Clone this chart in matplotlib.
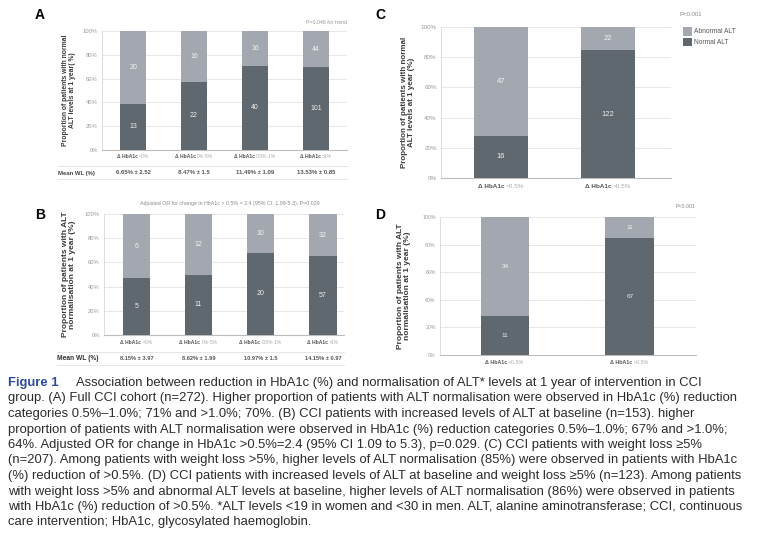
import matplotlib
matplotlib.use("Agg")
import matplotlib.pyplot as plt
from matplotlib.transforms import blended_transform_factory, ScaledTranslation

# ---------------- data ----------------
cats_AB = ["<0%", "0%-5%", "0.5%-1%", ">1%"]
cats_CD = ["<0.5%", ">0.5%"]

A_normal = [13, 22, 40, 101]
A_abnormal = [20, 16, 16, 44]
A_normal_pct = [39, 57.5, 71, 69.5]
A_mean_wl = ["6.65% ± 2.52", "8.47% ± 1.5", "11.49% ± 1.09", "13.53% ± 0.85"]

B_normal = [5, 11, 20, 57]
B_abnormal = [6, 12, 10, 32]
B_normal_pct = [47, 50, 68, 65]
B_mean_wl = ["8.15% ± 3.97", "8.62% ± 1.99", "10.97% ± 1.5", "14.15% ± 0.97"]

C_normal = [16, 122]
C_abnormal = [47, 22]
C_normal_pct = [28, 84.5]

D_normal = [11, 67]
D_abnormal = [34, 11]
D_normal_pct = [28, 85]

yticks = [0, 20, 40, 60, 80, 100]
ytick_labels = ["0%", "20%", "40%", "60%", "80%", "100%"]

caption_head = "Figure 1"
caption_lines = [
    "Association between reduction in HbA1c (%) and normalisation of ALT* levels at 1 year of intervention in CCI",
    "group. (A) Full CCI cohort (n=272). Higher proportion of patients with ALT normalisation were observed in HbA1c (%) reduction",
    "categories 0.5%\u20131.0%; 71% and >1.0%; 70%. (B) CCI patients with increased levels of ALT at baseline (n=153). higher",
    "proportion of patients with ALT normalisation were observed in HbA1c (%) reduction categories 0.5%\u20131.0%; 67% and >1.0%;",
    "64%. Adjusted OR for change in HbA1c >0.5%=2.4 (95% CI 1.09 to 5.3), p=0.029. (C) CCI patients with weight loss \u22655%",
    "(n=207). Among patients with weight loss >5%, higher levels of ALT normalisation (85%) were observed in patients with HbA1c",
    "(%) reduction of >0.5%. (D) CCI patients with increased levels of ALT at baseline and weight loss \u22655% (n=123). Among patients",
    "with weight loss >5% and abnormal ALT levels at baseline, higher levels of ALT normalisation (86%) were observed in patients",
    "with HbA1c (%) reduction of >0.5%. *ALT levels <19 in women and <30 in men. ALT, alanine aminotransferase; CCI, continuous",
    "care intervention; HbA1c, glycosylated haemoglobin.",
]

# ---------------- style ----------------
W, H = 768, 542
DARK = "#5f686f"
LIGHT = "#a3a7af"
TICKC = "#9a9a9a"
LABC = "#3a3a3a"
plt.rcParams["font.family"] = ["Liberation Sans", "DejaVu Sans"]

fig = plt.figure(figsize=(W / 100, H / 100), dpi=100)
fig.patch.set_facecolor("white")


def px_axes(l, r, t, b):
    return fig.add_axes([l / W, 1 - b / H, (r - l) / W, (b - t) / H])


def fx(x):
    return x / W


def fy(y):
    return 1 - y / H


split_texts = []


def panel(ax, cats, normal, abnormal, normal_pct, width, xlim, ylabel,
          tick_fs, val_fs, ylab_fs, ylab_x, xlab_y, xlab_fs):
    x = list(range(len(cats)))
    abn_pct = [100 - p for p in normal_pct]
    b1 = ax.bar(x, normal_pct, width, color=DARK, zorder=3, label="Normal ALT")
    b2 = ax.bar(x, abn_pct, width, bottom=normal_pct, color=LIGHT, zorder=3,
                label="Abnormal ALT")
    for i in x:
        ax.text(i, normal_pct[i] / 2, str(normal[i]), ha="center", va="center",
                color="#eeeeee", fontsize=val_fs, zorder=4)
        ax.text(i, normal_pct[i] + abn_pct[i] / 2, str(abnormal[i]), ha="center",
                va="center", color="#f2f2f2", fontsize=val_fs, zorder=4)
    ax.set_xlim(*xlim)
    ax.set_ylim(0, 100)
    ax.set_yticks(yticks)
    ax.set_yticklabels(ytick_labels)
    ax.tick_params(axis="y", length=0, labelsize=tick_fs, labelcolor=TICKC, pad=3)
    ax.set_xticks([])
    ax.yaxis.grid(True, color="#e4e4e4", linewidth=0.6, zorder=0)
    for s in ["top", "right"]:
        ax.spines[s].set_visible(False)
    ax.spines["left"].set_color("#d8d8d8")
    ax.spines["left"].set_linewidth(0.6)
    ax.spines["bottom"].set_color("#bdbdbd")
    ax.spines["bottom"].set_linewidth(0.8)
    ax.set_ylabel(ylabel, fontsize=ylab_fs, fontweight="bold", color=LABC,
                  linespacing=1.15, va="center")
    ax.yaxis.set_label_coords(fx(ylab_x), 0.5, transform=blended_transform_factory(fig.transFigure, ax.transAxes))
    tr = blended_transform_factory(ax.transData, fig.transFigure)
    for i, c in enumerate(cats):
        t1 = ax.text(i, fy(xlab_y), "\u0394 HbA1c ", transform=tr, ha="left",
                     va="center", fontsize=xlab_fs, fontweight="bold", color="#555555")
        t2 = ax.text(i, fy(xlab_y), c, transform=tr, ha="left", va="center",
                     fontsize=xlab_fs, color="#aaaaaa")
        split_texts.append((t1, t2, tr))
    return b1, b2


# ---------------- Panel A ----------------
axA = px_axes(102, 347, 31, 150)
panel(axA, cats_AB, A_normal, A_abnormal, A_normal_pct, 0.43, (-0.51, 3.51),
      "Proportion of patients with normal\nALT levels at 1 year( %)",
      4.2, 5.0, 4.9, 69, 157, 3.6)
fig.text(fx(40), fy(15), "A", fontsize=10, fontweight="bold", ha="center", va="center")
fig.text(fx(347), fy(22), "P=0.046 for trend", fontsize=3.8, color=TICKC,
         ha="right", va="center")
trA = blended_transform_factory(axA.transData, fig.transFigure)
fig.add_artist(plt.Line2D([fx(58), fx(347)], [fy(166), fy(166)], color="#e2e2e2", lw=0.6))
fig.add_artist(plt.Line2D([fx(58), fx(347)], [fy(179), fy(179)], color="#e2e2e2", lw=0.6))
fig.text(fx(58), fy(173), "Mean WL (%)", fontsize=4.3, fontweight="bold",
         color="#444444", ha="left", va="center")
for i, s in enumerate(A_mean_wl):
    axA.text(i, fy(173), s, transform=trA, fontsize=4.3, fontweight="bold",
             color="#555555", ha="center", va="center")

# ---------------- Panel B ----------------
axB = px_axes(104, 344, 214, 335)
panel(axB, cats_AB, B_normal, B_abnormal, B_normal_pct, 0.44, (-0.52, 3.34),
      "Proportion of patients with ALT\nnormalisation at 1 year (%)",
      4.2, 5.0, 6.0, 69, 342, 3.6)
fig.text(fx(40), fy(215), "B", fontsize=10, fontweight="bold", ha="center", va="center")
fig.text(fx(230), fy(204),
         "Adjusted OR for change in HbA1c > 0.5% = 2.4 (95% CI: 1.09-5.3), P=0.029",
         fontsize=3.8, color="#8a8a8a", ha="center", va="center")
trB = blended_transform_factory(axB.transData, fig.transFigure)
fig.add_artist(plt.Line2D([fx(57), fx(344)], [fy(352), fy(352)], color="#e2e2e2", lw=0.6))
fig.add_artist(plt.Line2D([fx(57), fx(344)], [fy(365), fy(365)], color="#e2e2e2", lw=0.6))
fig.text(fx(57), fy(358), "Mean WL (%)", fontsize=4.8, fontweight="bold",
         color="#333333", ha="left", va="center")
for i, s in enumerate(B_mean_wl):
    axB.text(i, fy(358), s, transform=trB, fontsize=4.1, fontweight="bold",
             color="#555555", ha="center", va="center")

# ---------------- Panel C ----------------
axC = px_axes(441, 671, 27, 178)
bC = panel(axC, cats_CD, C_normal, C_abnormal, C_normal_pct, 0.5, (-0.56, 1.59),
           "Proportion of patients with normal\nALT levels at 1 year (%)",
           4.5, 5.5, 5.8, 408, 187, 4.6)
fig.text(fx(380), fy(15), "C", fontsize=10, fontweight="bold", ha="center", va="center")
fig.text(fx(680), fy(15), "P<0.001", fontsize=4.3, color="#888888", ha="left", va="center")
axC.legend([bC[1], bC[0]], ["Abnormal ALT", "Normal ALT"], loc="upper left",
           bbox_to_anchor=(fx(677), fy(21)), bbox_transform=fig.transFigure,
           frameon=False, fontsize=4.8, handlelength=1.3, handleheight=1.6,
           handletextpad=0.4, labelspacing=0.3, labelcolor="#555555")

# ---------------- Panel D ----------------
axD = px_axes(440, 696, 217, 355)
panel(axD, cats_CD, D_normal, D_abnormal, D_normal_pct, 0.39, (-0.52, 1.53),
      "Proportion of patients with ALT\nnormalisation at 1 year (%)",
      3.8, 4.6, 6.0, 404, 363, 3.8)
fig.text(fx(380), fy(215), "D", fontsize=10, fontweight="bold", ha="center", va="center")
fig.text(fx(696), fy(206), "P<0.001", fontsize=3.8, color="#888888", ha="right", va="center")

# ---------------- caption ----------------
cap_fs = 9.4
y0 = 383
dy = 15.5
fig.text(fx(8), fy(y0), caption_head, fontsize=cap_fs, fontweight="bold",
         color="#2d4a9c", ha="left", va="center")
for k, line in enumerate(caption_lines):
    xx = 76 if k == 0 else 8
    fig.text(fx(xx), fy(y0 + k * dy), line, fontsize=cap_fs, color="#2b2b2b",
             ha="left", va="center")

# ---------------- center split tick labels ----------------
fig.canvas.draw()
r = fig.canvas.get_renderer()
for t1, t2, tr in split_texts:
    w1 = t1.get_window_extent(r).width
    w2 = t2.get_window_extent(r).width
    tot = w1 + w2
    t1.set_transform(tr + ScaledTranslation(-tot / 2 / 100, 0, fig.dpi_scale_trans))
    t2.set_transform(tr + ScaledTranslation((-tot / 2 + w1) / 100, 0, fig.dpi_scale_trans))

fig.savefig("out.png", dpi=100, facecolor="white")
